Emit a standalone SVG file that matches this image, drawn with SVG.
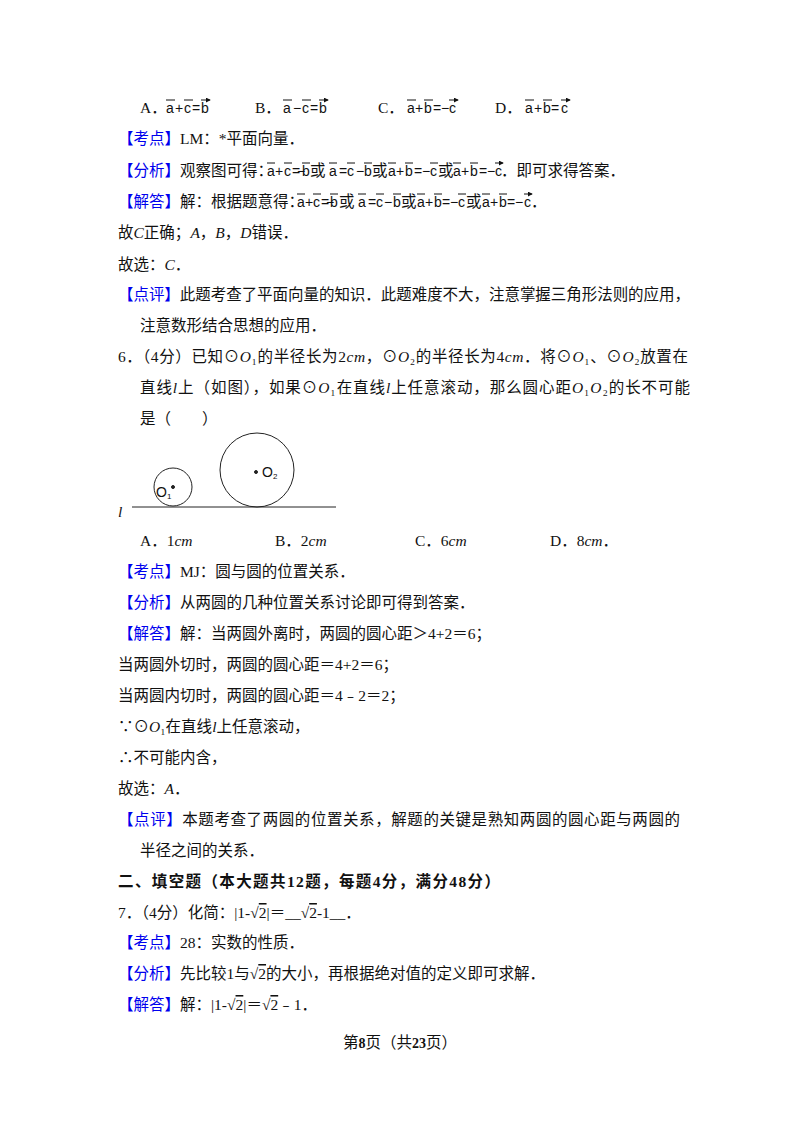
<svg xmlns="http://www.w3.org/2000/svg" width="800" height="1132" viewBox="0 0 800 1132">
<style>
text{font-family:"Liberation Serif","Noto Sans CJK SC",serif;font-size:15.5px;fill:#111}
.b{fill:#0000ee}
.v{font-family:"Liberation Sans","Noto Sans CJK SC",sans-serif;font-size:14px}
.ar{stroke:#111;stroke-width:1;fill:none;marker-end:url(#ah)}
.i{font-style:italic}
.bd{font-weight:bold}
</style>
<defs>
<marker id="ah" viewBox="0 0 6 6" refX="5" refY="3" markerWidth="5" markerHeight="5" markerUnits="userSpaceOnUse" orient="auto"><path d="M0,0 L6,3 L0,6 z" fill="#111"/></marker>
</defs>
<rect width="800" height="1132" fill="#fff"/>
<g id="opts1">
<text x="140" y="113">A．</text>
<text class="v" x="166 175 184 192 201" y="113">a+c=b</text>
<path class="ar" d="M166 100h9M184 100h9M201 100h9"/>
<text x="255" y="113">B．</text>
<text class="v" x="283 293 302 310 319" y="113">a−c=b</text>
<path class="ar" d="M283 100h9M302 100h9M319 100h9"/>
<text x="378" y="113">C．</text>
<text class="v" x="407 415 424 433 441 449" y="113">a+b=−c</text>
<path class="ar" d="M407 100h9M424 100h9M449 100h9"/>
<text x="495" y="113">D．</text>
<text class="v" x="525 534 543 551 561" y="113">a+b=c</text>
<path class="ar" d="M525 100h9M543 100h9M561 100h9"/>
</g>
<g id="kd1"><text x="118" y="144"><tspan class="b">【考点】</tspan>LM：*平面向量．</text></g>
<g id="fx1">
<text x="118" y="176"><tspan class="b">【分析】</tspan>观察图可得：</text>
<text class="v" x="267 275 284 292 297 302" y="176">a+c=−b</text><text x="310" y="176">或</text>
<text class="v" x="329 339 347 356 364" y="176">a=c−b</text><text x="372" y="176">或</text>
<text class="v" x="388 396 405 414 422 430" y="176">a+b=−c</text><text x="438" y="176">或</text>
<text class="v" x="453 461 470 479 487 495" y="176">a+b=−c</text><text x="501" y="176">．即可求得答案．</text>
<path class="ar" d="M267 163h8M284 163h8M302 163h8M329 163h8M347 163h8M364 163h8M388 163h8M405 163h8M430 163h8M453 163h8M470 163h8M495 163h8"/>
</g>
<g id="jd1">
<text x="118" y="207"><tspan class="b">【解答】</tspan>解：根据题意得：</text>
<text class="v" x="297 305 313 321 326 330" y="207">a+c=−b</text><text x="339" y="207">或</text>
<text class="v" x="358 368 376 384 393" y="207">a=c−b</text><text x="401" y="207">或</text>
<text class="v" x="417 425 434 442 450 458" y="207">a+b=−c</text><text x="466" y="207">或</text>
<text class="v" x="482 490 499 507 515 524" y="207">a+b=−c</text><text x="531" y="207">．</text>
<path class="ar" d="M297 194h8M313 194h8M330 194h8M358 194h8M376 194h8M393 194h8M417 194h8M434 194h8M458 194h8M482 194h8M499 194h8M524 194h8"/>
</g>
<text x="118" y="238">故<tspan class="i">C</tspan>正确；<tspan class="i">A</tspan>，<tspan class="i">B</tspan>，<tspan class="i">D</tspan>错误．</text>
<text x="118" y="270">故选：<tspan class="i">C</tspan>．</text>
<text x="118" y="300" textLength="572"><tspan class="b">【点评】</tspan>此题考查了平面向量的知识．此题难度不大，注意掌握三角形法则的应用，</text>
<text x="140" y="331">注意数形结合思想的应用．</text>
<text x="118" y="362" textLength="570">6．（4分）已知⊙<tspan class="i">O</tspan>₁的半径长为2<tspan class="i">cm</tspan>，⊙<tspan class="i">O</tspan>₂的半径长为4<tspan class="i">cm</tspan>．将⊙<tspan class="i">O</tspan>₁、⊙<tspan class="i">O</tspan>₂放置在</text>
<text x="140" y="393" textLength="550">直线<tspan class="i">l</tspan>上（如图），如果⊙<tspan class="i">O</tspan>₁在直线<tspan class="i">l</tspan>上任意滚动，那么圆心距<tspan class="i">O</tspan>₁<tspan class="i">O</tspan>₂的长不可能</text>
<text x="140" y="424">是（　　）</text>
<g id="figure" fill="none" stroke="#222" stroke-width="1">
<line x1="132" y1="507" x2="336" y2="507"/>
<circle cx="173" cy="487" r="19"/>
<circle cx="257" cy="470" r="37"/>
<circle cx="173" cy="487" r="1.5" fill="#222"/>
<circle cx="256" cy="472" r="1.5" fill="#222"/>
</g>
<text class="v" x="156" y="497" font-size="12">O<tspan font-size="8" dy="2">1</tspan></text>
<text class="v" x="262" y="477" font-size="12">O<tspan font-size="8" dy="2">2</tspan></text>
<text x="118" y="517" class="i" font-size="13">l</text>
<g id="opts2">
<text x="140" y="546">A．1<tspan class="i">cm</tspan></text>
<text x="275" y="546">B．2<tspan class="i">cm</tspan></text>
<text x="415" y="546">C．6<tspan class="i">cm</tspan></text>
<text x="550" y="546">D．8<tspan class="i">cm</tspan>．</text>
</g>
<text x="118" y="577"><tspan class="b">【考点】</tspan>MJ：圆与圆的位置关系．</text>
<text x="118" y="608"><tspan class="b">【分析】</tspan>从两圆的几种位置关系讨论即可得到答案．</text>
<text x="118" y="639"><tspan class="b">【解答】</tspan>解：当两圆外离时，两圆的圆心距＞4+2＝6；</text>
<text x="118" y="670">当两圆外切时，两圆的圆心距＝4+2＝6；</text>
<text x="118" y="701">当两圆内切时，两圆的圆心距＝4﹣2＝2；</text>
<text x="118" y="732">∵⊙<tspan class="i">O</tspan>₁在直线<tspan class="i">l</tspan>上任意滚动，</text>
<text x="118" y="763">∴不可能内含，</text>
<text x="118" y="794">故选：<tspan class="i">A</tspan>．</text>
<text x="118" y="825" textLength="562"><tspan class="b">【点评】</tspan>本题考查了两圆的位置关系，解题的关键是熟知两圆的圆心距与两圆的</text>
<text x="140" y="856">半径之间的关系．</text>
<text x="118" y="887" class="bd" textLength="382">二、填空题（本大题共12题，每题4分，满分48分）</text>
<text x="118" y="918">7．（4分）化简：|1-√<tspan text-decoration="overline">2</tspan>|＝__√<tspan text-decoration="overline">2</tspan>-1__．</text>
<text x="118" y="948"><tspan class="b">【考点】</tspan>28：实数的性质．</text>
<text x="118" y="979"><tspan class="b">【分析】</tspan>先比较1与√<tspan text-decoration="overline">2</tspan>的大小，再根据绝对值的定义即可求解．</text>
<text x="118" y="1010"><tspan class="b">【解答】</tspan>解：|1-√<tspan text-decoration="overline">2</tspan>|＝√<tspan text-decoration="overline">2</tspan>﹣1．</text>
<text x="400" y="1048" text-anchor="middle" font-size="12.5">第<tspan class="bd" font-size="14">8</tspan>页（共<tspan class="bd" font-size="14">23</tspan>页）</text>
</svg>
